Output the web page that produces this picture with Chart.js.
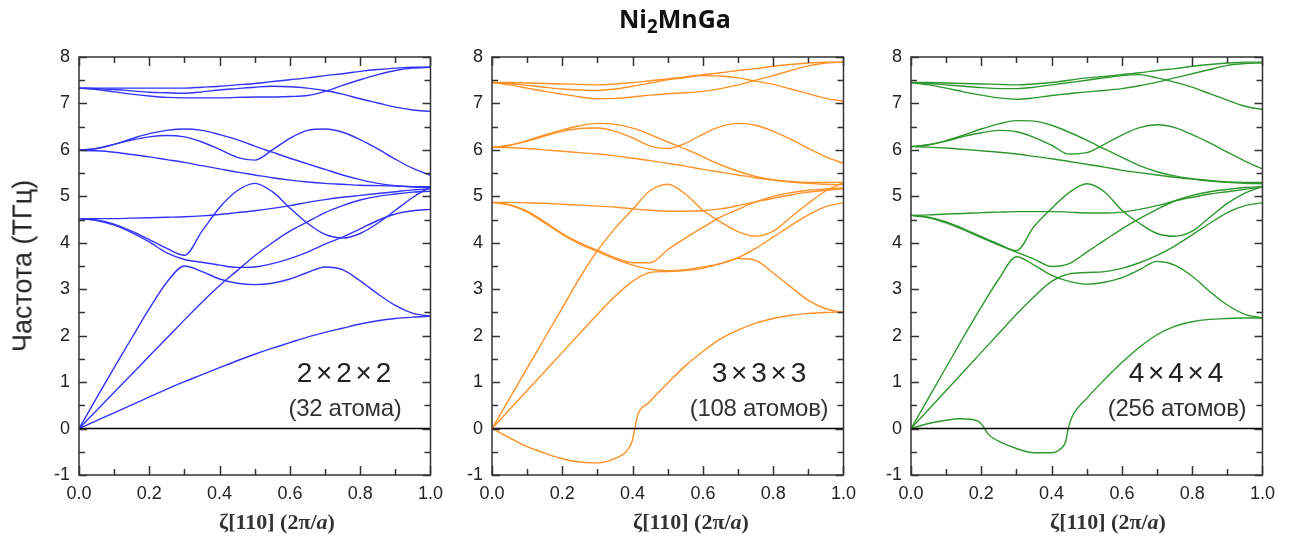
<!DOCTYPE html>
<html>
<head>
<meta charset="utf-8">
<script src="https://cdn.jsdelivr.net/npm/chart.js@4.4.1/dist/chart.umd.min.js"></script>
<style>
html, body { margin: 0; padding: 0; background: #fff; }
#wrap { position: relative; width: 1291px; height: 540px; overflow: hidden; font-family: "Liberation Sans", Arial, sans-serif; }
.panel { position: absolute; top: 0; width: 432px; height: 540px; }
.lbl { position: absolute; white-space: nowrap; transform: translate(-50%, -50%); line-height: 1; }
#ttl { font-family: "Open Sans", sans-serif; font-weight: bold; font-size: 25px; color: #111; }
#ttl sub { font-size: 0.75em; vertical-align: -0.3em; line-height: 0; }
#ytl { font-size: 27px; color: #222; transform: translate(-50%, -50%) rotate(-90deg); }
.xt { font-family: "Liberation Serif", "Times New Roman", serif; font-weight: bold; font-size: 22px; color: #333; }
.cell { font-size: 28px; color: #222; word-spacing: -4px; }
.atoms { font-size: 24px; color: #333; letter-spacing: -0.3px; }
</style>
</head>
<body>
<div id="wrap">
  <div class="panel" style="left:19px"><canvas id="c2" width="432" height="540"></canvas></div>
  <div class="panel" style="left:432px"><canvas id="c3" width="432" height="540"></canvas></div>
  <div class="panel" style="left:851px"><canvas id="c4" width="432" height="540"></canvas></div>

  <div class="lbl" id="ttl" style="left:675px; top:18px">Ni<sub>2</sub>MnGa</div>
  <div class="lbl" id="ytl" style="left:23px; top:266px">Частота (ТГц)</div>

  <div class="lbl xt" style="left:277px; top:522px">ζ[110] (2π/<i>a</i>)</div>
  <div class="lbl xt" style="left:691px; top:522px">ζ[110] (2π/<i>a</i>)</div>
  <div class="lbl xt" style="left:1108px; top:522px">ζ[110] (2π/<i>a</i>)</div>

  <div class="lbl cell" style="left:344px; top:373px">2 × 2 × 2</div>
  <div class="lbl atoms" style="left:345px; top:408px">(32 атома)</div>
  <div class="lbl cell" style="left:759px; top:373px">3 × 3 × 3</div>
  <div class="lbl atoms" style="left:759px; top:408px">(108 атомов)</div>
  <div class="lbl cell" style="left:1176px; top:373px">4 × 4 × 4</div>
  <div class="lbl atoms" style="left:1177px; top:408px">(256 атомов)</div>
</div>

<script>
// wave vector grid along [110]
var zeta = [0, 0.05, 0.1, 0.15, 0.2, 0.25, 0.3, 0.35, 0.4, 0.45, 0.5, 0.55, 0.6, 0.65, 0.7, 0.75, 0.8, 0.85, 0.9, 0.95, 1.0];

var xTickVals = [0, 0.2, 0.4, 0.6, 0.8, 1.0];
var xMinorVals = [0.1, 0.3, 0.5, 0.7, 0.9];
var yTickVals = [-1, 0, 1, 2, 3, 4, 5, 6, 7, 8];
var yMinorVals = [-0.5, 0.5, 1.5, 2.5, 3.5, 4.5, 5.5, 6.5, 7.5];

// 2x2x2 supercell (32 atoms)
var s2_b1  = [7.33,7.33,7.33,7.33,7.33,7.33,7.33,7.35,7.37,7.40,7.43,7.47,7.51,7.55,7.60,7.64,7.69,7.73,7.76,7.78,7.78];
var s2_b2  = [7.33,7.32,7.30,7.27,7.24,7.23,7.22,7.25,7.29,7.32,7.35,7.37,7.36,7.33,7.28,7.20,7.10,7.01,6.92,6.86,6.83];
var s2_b3  = [7.33,7.30,7.25,7.20,7.16,7.13,7.12,7.12,7.12,7.13,7.14,7.14,7.15,7.17,7.26,7.39,7.51,7.62,7.71,7.76,7.78];
var s2_b4  = [5.99,6.03,6.12,6.24,6.35,6.42,6.45,6.42,6.33,6.22,6.08,5.95,5.82,5.70,5.58,5.46,5.36,5.28,5.23,5.20,5.19];
var s2_b5  = [5.99,6.03,6.12,6.21,6.28,6.31,6.28,6.17,6.01,5.84,5.78,6.00,6.25,6.42,6.45,6.38,6.22,6.02,5.80,5.60,5.45];
var s2_b6  = [5.99,5.98,5.95,5.90,5.85,5.79,5.73,5.66,5.59,5.52,5.46,5.40,5.35,5.31,5.28,5.26,5.24,5.23,5.22,5.21,5.21];
var s2_b7  = [4.52,4.52,4.52,4.53,4.54,4.55,4.56,4.58,4.61,4.65,4.69,4.74,4.80,4.87,4.93,4.98,5.02,5.06,5.10,5.14,5.16];
var s2_b8  = [4.52,4.49,4.40,4.25,4.07,3.88,3.73,4.25,4.76,5.12,5.28,5.10,4.75,4.42,4.18,4.10,4.20,4.42,4.70,4.98,5.21];
var s2_b9  = [4.52,4.48,4.38,4.22,4.02,3.78,3.64,3.58,3.52,3.47,3.48,3.55,3.66,3.80,3.97,4.12,4.30,4.48,4.62,4.69,4.72];
var s2_b10 = [0,0.66,1.31,1.95,2.58,3.15,3.50,3.38,3.22,3.13,3.10,3.13,3.22,3.36,3.48,3.42,3.18,2.90,2.65,2.48,2.42];
var s2_b11 = [0,0.39,0.78,1.17,1.56,1.95,2.34,2.72,3.08,3.40,3.72,4.00,4.25,4.45,4.65,4.80,4.92,5.00,5.05,5.09,5.11];
var s2_b12 = [0,0.17,0.34,0.51,0.68,0.85,1.01,1.16,1.31,1.46,1.60,1.73,1.85,1.97,2.07,2.16,2.25,2.32,2.37,2.40,2.42];

// 3x3x3 supercell (108 atoms)
var s3_b1  = [7.45,7.45,7.44,7.43,7.42,7.41,7.40,7.42,7.45,7.49,7.53,7.57,7.62,7.66,7.71,7.75,7.80,7.84,7.87,7.89,7.89];
var s3_b2  = [7.45,7.43,7.39,7.35,7.31,7.29,7.28,7.31,7.37,7.44,7.51,7.56,7.60,7.59,7.55,7.48,7.41,7.31,7.21,7.11,7.05];
var s3_b3  = [7.45,7.40,7.33,7.26,7.20,7.14,7.10,7.11,7.14,7.18,7.21,7.23,7.26,7.32,7.40,7.50,7.60,7.71,7.81,7.87,7.89];
var s3_b4  = [6.05,6.10,6.20,6.32,6.43,6.52,6.57,6.55,6.47,6.33,6.17,6.02,5.85,5.68,5.54,5.43,5.36,5.32,5.30,5.30,5.30];
var s3_b5  = [6.05,6.10,6.19,6.30,6.40,6.46,6.47,6.40,6.26,6.08,6.03,6.14,6.34,6.50,6.57,6.53,6.40,6.23,6.03,5.85,5.71];
var s3_b6  = [6.06,6.05,6.03,6.00,5.97,5.94,5.91,5.87,5.82,5.77,5.71,5.65,5.58,5.52,5.46,5.40,5.35,5.31,5.28,5.26,5.25];
var s3_b7  = [4.87,4.87,4.86,4.85,4.83,4.81,4.79,4.77,4.73,4.70,4.68,4.68,4.69,4.73,4.80,4.88,4.96,5.03,5.09,5.13,5.16];
var s3_b8  = [4.87,4.82,4.68,4.45,4.20,4.00,3.84,3.68,3.57,3.57,3.85,4.10,4.33,4.55,4.72,4.88,5.00,5.08,5.13,5.16,5.18];
var s3_b9  = [4.87,4.81,4.66,4.43,4.18,3.97,3.81,3.65,3.52,3.43,3.40,3.42,3.48,3.55,3.68,3.88,4.12,4.37,4.60,4.78,4.86];
var s3_b10 = [0,0.65,1.30,1.95,2.60,3.25,3.83,4.31,4.72,5.12,5.26,5.05,4.70,4.45,4.24,4.14,4.25,4.55,4.85,5.12,5.30];
var s3_b11 = [0,0.41,0.82,1.23,1.64,2.05,2.46,2.85,3.17,3.36,3.38,3.40,3.45,3.55,3.66,3.62,3.35,3.05,2.76,2.58,2.50];
// soft TA branch, sampled more densely around the jump
var s3_softX = [0,0.05,0.1,0.15,0.2,0.25,0.3,0.33,0.36,0.38,0.398,0.405,0.415,0.445,0.5,0.55,0.6,0.65,0.7,0.75,0.8,0.85,0.9,0.95,1.0];
var s3_softY = [0,-0.20,-0.39,-0.53,-0.65,-0.72,-0.74,-0.70,-0.61,-0.51,-0.29,-0.05,0.30,0.55,0.98,1.35,1.66,1.93,2.12,2.27,2.37,2.44,2.48,2.50,2.51];

// 4x4x4 supercell (256 atoms)
var s4_b1  = [7.45,7.45,7.44,7.43,7.42,7.41,7.40,7.42,7.45,7.50,7.55,7.58,7.62,7.66,7.71,7.75,7.80,7.84,7.87,7.89,7.89];
var s4_b2  = [7.45,7.43,7.40,7.37,7.34,7.32,7.32,7.35,7.40,7.45,7.50,7.55,7.60,7.62,7.55,7.46,7.35,7.21,7.07,6.94,6.87];
var s4_b3  = [7.45,7.40,7.33,7.25,7.18,7.12,7.09,7.12,7.17,7.21,7.25,7.28,7.32,7.38,7.46,7.55,7.64,7.73,7.82,7.86,7.87];
var s4_b4  = [6.07,6.11,6.20,6.32,6.45,6.56,6.63,6.62,6.53,6.38,6.21,6.02,5.84,5.66,5.53,5.44,5.38,5.34,5.31,5.30,5.30];
var s4_b5  = [6.07,6.11,6.19,6.29,6.37,6.42,6.39,6.27,6.10,5.91,5.94,6.12,6.32,6.48,6.54,6.48,6.33,6.15,5.95,5.76,5.59];
var s4_b6  = [6.07,6.06,6.04,6.01,5.98,5.95,5.91,5.86,5.81,5.75,5.69,5.63,5.56,5.51,5.46,5.41,5.37,5.33,5.30,5.28,5.27];
var s4_b7  = [4.59,4.60,4.62,4.63,4.65,4.66,4.67,4.67,4.67,4.66,4.64,4.64,4.66,4.72,4.80,4.90,4.98,5.05,5.10,5.15,5.20];
var s4_b8  = [4.59,4.55,4.45,4.30,4.13,3.97,3.83,4.35,4.74,5.08,5.27,5.10,4.70,4.42,4.20,4.14,4.25,4.55,4.85,5.07,5.21];
var s4_b9  = [4.59,4.54,4.43,4.28,4.11,3.95,3.80,3.65,3.49,3.55,3.80,4.05,4.30,4.52,4.72,4.90,5.02,5.10,5.15,5.19,5.21];
var s4_b10 = [0,0.66,1.32,1.98,2.62,3.22,3.70,3.52,3.30,3.17,3.11,3.15,3.25,3.42,3.60,3.52,3.28,2.95,2.66,2.46,2.38];
var s4_b11 = [0,0.41,0.82,1.23,1.64,2.05,2.46,2.84,3.17,3.33,3.36,3.38,3.45,3.57,3.73,3.93,4.17,4.42,4.65,4.80,4.86];
var s4_softX = [0,0.05,0.1,0.14,0.19,0.205,0.22,0.26,0.3,0.35,0.4,0.425,0.44,0.448,0.458,0.5,0.55,0.6,0.65,0.7,0.75,0.8,0.85,0.9,0.95,1.0];
var s4_softY = [0,0.11,0.18,0.21,0.16,0.05,-0.12,-0.31,-0.43,-0.52,-0.52,-0.44,-0.28,0.02,0.25,0.65,1.05,1.42,1.75,2.02,2.20,2.30,2.35,2.37,2.38,2.38];

Chart.defaults.font.family = '"Liberation Sans", Arial, sans-serif';

function toPoints(xs, ys) {
	return ys.map(function(y, i){ return {x: xs[i], y: y}; });
}

// box with inward major/minor ticks on all four sides
var framePlugin = {
	id: 'frame',
	afterDatasetsDraw: function(chart) {
		var ctx = chart.ctx, a = chart.chartArea;
		var xs = chart.scales.x, ys = chart.scales.y;
		ctx.save();
		ctx.strokeStyle = '#333';
		ctx.lineWidth = 1.5;
		ctx.beginPath();
		function xt(vals, len) {
			vals.forEach(function(v){
				var px = Math.round(xs.getPixelForValue(v)) + 0.5;
				ctx.moveTo(px, a.bottom); ctx.lineTo(px, a.bottom - len);
				ctx.moveTo(px, a.top); ctx.lineTo(px, a.top + len);
			});
		}
		function yt(vals, len) {
			vals.forEach(function(v){
				var py = Math.round(ys.getPixelForValue(v)) + 0.5;
				ctx.moveTo(a.left, py); ctx.lineTo(a.left + len, py);
				ctx.moveTo(a.right, py); ctx.lineTo(a.right - len, py);
			});
		}
		xt(xTickVals, 9); xt(xMinorVals, 6);
		yt(yTickVals, 8); yt(yMinorVals, 6);
		ctx.stroke();
		ctx.strokeRect(a.left, a.top, a.right - a.left, a.bottom - a.top);
		ctx.restore();
	}
};

function makeChart(id, color, branches, softX, softY) {
	var datasets = [{
		data: [{x: 0, y: 0}, {x: 1, y: 0}],
		borderColor: '#000', borderWidth: 1.5, pointRadius: 0
	}];
	branches.forEach(function(b){
		datasets.push({ data: toPoints(zeta, b), borderColor: color, borderWidth: 1.4, pointRadius: 0, cubicInterpolationMode: 'monotone' });
	});
	if (softX) {
		datasets.push({ data: toPoints(softX, softY), borderColor: color, borderWidth: 1.4, pointRadius: 0, cubicInterpolationMode: 'monotone' });
	}
	return new Chart(document.getElementById(id).getContext('2d'), {
		type: 'line',
		data: { datasets: datasets },
		options: {
			responsive: false,
			animation: false,
			events: [],
			layout: { padding: { top: 57, right: 20, bottom: 0, left: 0 } },
			plugins: { legend: { display: false }, tooltip: { enabled: false } },
			scales: {
				x: {
					type: 'linear', min: 0, max: 1,
					grid: { display: false, drawTicks: false },
					border: { display: false },
					ticks: { autoSkip: false, maxRotation: 0, padding: 8, color: '#222', font: { size: 18 },
						callback: function(v){ return Number(v).toFixed(1); } },
					afterBuildTicks: function(s){ s.ticks = xTickVals.map(function(v){ return {value: v}; }); },
					afterFit: function(s){ s.height = 65; }
				},
				y: {
					type: 'linear', min: -1, max: 8,
					grid: { display: false, drawTicks: false },
					border: { display: false },
					ticks: { autoSkip: false, padding: 9, color: '#222', font: { size: 18 } },
					afterBuildTicks: function(s){ s.ticks = yTickVals.map(function(v){ return {value: v}; }); },
					afterFit: function(s){ s.width = 60; }
				}
			}
		},
		plugins: [framePlugin]
	});
}

makeChart('c2', '#3333ff', [s2_b1,s2_b2,s2_b3,s2_b4,s2_b5,s2_b6,s2_b7,s2_b8,s2_b9,s2_b10,s2_b11,s2_b12]);
makeChart('c3', '#ff9126', [s3_b1,s3_b2,s3_b3,s3_b4,s3_b5,s3_b6,s3_b7,s3_b8,s3_b9,s3_b10,s3_b11], s3_softX, s3_softY);
makeChart('c4', '#2e982e', [s4_b1,s4_b2,s4_b3,s4_b4,s4_b5,s4_b6,s4_b7,s4_b8,s4_b9,s4_b10,s4_b11], s4_softX, s4_softY);
</script>
</body>
</html>
